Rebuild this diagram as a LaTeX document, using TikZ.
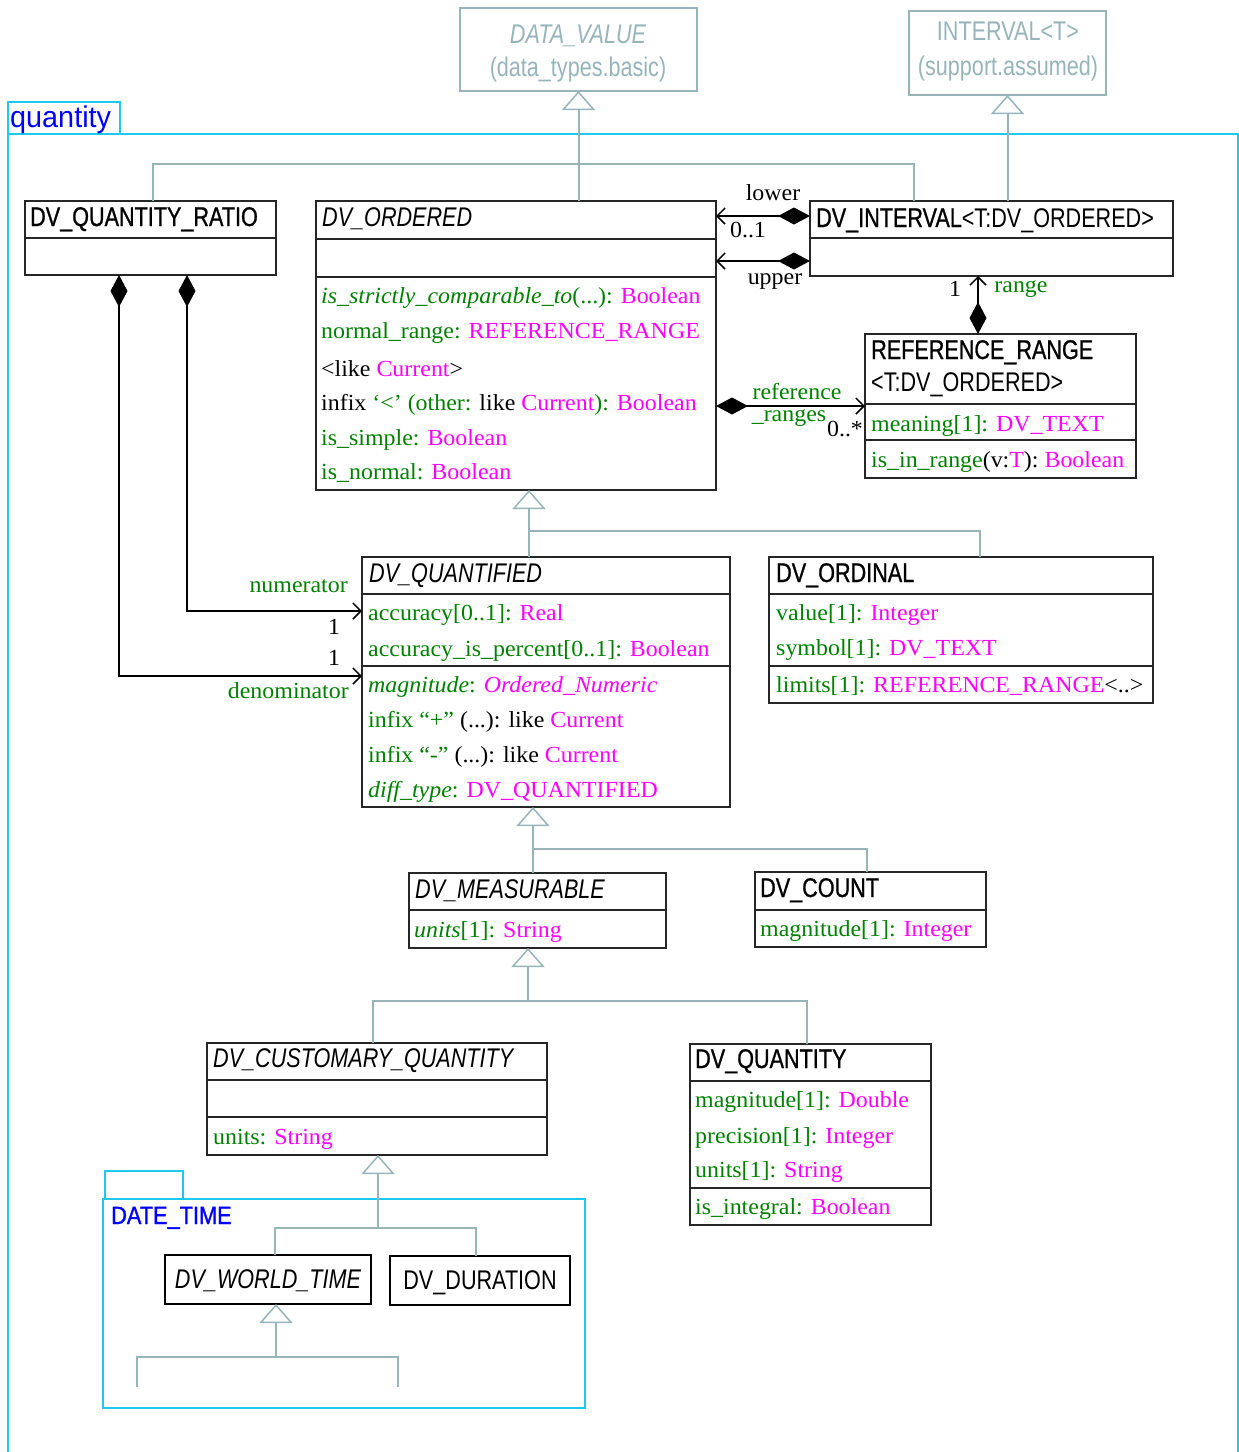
\documentclass[tikz,border=0pt]{standalone}
\usepackage{fontspec}
\setmainfont{Liberation Serif}[FakeStretch=1.04]
\newfontfamily\clsf{Liberation Sans}[FakeStretch=0.8]
\newfontfamily\clsbf{Liberation Sans}[FakeStretch=0.8,FakeBold=0.9]
\newfontfamily\pkgfa{Liberation Sans}[FakeStretch=0.96]
\newfontfamily\pkgfb{Liberation Sans}[FakeStretch=0.87,FakeBold=1.2]
\usetikzlibrary{arrows.meta}
\definecolor{cgreen}{RGB}{0,128,0}
\definecolor{cmag}{RGB}{255,0,255}
\definecolor{cgen}{RGB}{150,180,185}
\definecolor{cpkg}{RGB}{30,200,240}
\definecolor{cblue}{RGB}{0,0,255}
\newcommand\attrsize{\fontsize{23}{28}\selectfont}
\newcommand\clssize{\fontsize{27}{32}\selectfont}
\newcommand\mg[1]{\textcolor{cmag}{#1}}
\newcommand\bk[1]{\textcolor{black}{#1}}
\newcommand\umlbox[6][box]{\node[#1, minimum width={#5-#3}, minimum height={#6-#4}] (#2) at (#3,#4) {};}
\tikzset{
  box/.style={draw=black!85, line width=1.2pt, inner sep=0pt, outer sep=0pt, anchor=north west},
  thickbox/.style={box, draw=black, line width=2.5pt},
  extbox/.style={box, draw=cgen, line width=2pt},
  sepline/.style={draw=black!85, line width=1.2pt},
  title/.style={font=\clsbf\clssize, inner sep=0pt, anchor=base west},
  ititle/.style={font=\clsf\itshape\clssize, inner sep=0pt, anchor=base west},
  exttext/.style={font=\clsf\clssize, text=cgen, inner sep=0pt, anchor=base},
  attr/.style={font=\attrsize, text=cgreen, inner sep=0pt, anchor=base west},
  lbl/.style={font=\attrsize, inner sep=0pt, anchor=base},
  gen/.style={draw=cgen, line width=2pt},
  genarrow/.style={gen, -{Triangle[open, fill=white, length=19pt, width=33pt, line width=1.5pt]}},
  assoc/.style={draw=black, line width=2pt, {Diamond[length=32pt,width=17pt]}-{Straight Barb[length=8pt,width=16pt,line width=1.5pt]}},
  pkg/.style={draw=cpkg, line width=2pt},
}
\begin{document}
\begin{tikzpicture}[x=1pt,y=-1pt]
\useasboundingbox (0,0) rectangle (1239,1452);
% package quantity
\draw[pkg] (8,134) rectangle (120,102);
\draw[pkg] (8,1470) -- (8,134) -- (1238,134) -- (1238,1470);
\node[font=\pkgfa\fontsize{30}{34}\selectfont, text=cblue, inner sep=0pt, anchor=base west] (pkgq) at (10,127) {quantity};
% external boxes
\umlbox[extbox]{dv}{460}{8}{697}{91}
\node[exttext, font=\clsf\itshape\clssize] (dvt1) at (578,43) {DATA\_VALUE};
\node[exttext] (dvt2) at (578,76) {(data\_types.basic)};
\umlbox[extbox]{ivt}{909}{11}{1106}{95}
\node[exttext] (ivt1) at (1008,40) {INTERVAL<T>};
\node[exttext] (ivt2) at (1008,75) {(support.assumed)};
% DV_QUANTITY_RATIO
\umlbox{ratio}{25}{201}{276}{275}
\draw[sepline] (25,238) -- (276,238);
\node[title] (ratiot) at (30,226) {DV\_QUANTITY\_RATIO};
% DV_ORDERED
\umlbox{ordered}{316}{201}{716}{490}
\draw[sepline] (316,239) -- (716,239);
\draw[sepline] (316,277) -- (716,277);
\node[ititle] (orderedt) at (322,226) {DV\_ORDERED};
\node[attr] (o1) at (321,303) {\textit{is\_strictly\_comparable\_to}(...): \mg{Boolean}};
\node[attr] (o2) at (321,338) {normal\_range: \mg{REFERENCE\_RANGE}};
\node[attr, text=black] (o3) at (321,376) {<like \mg{Current}>};
\node[attr] (o4) at (321,410) {\bk{infix} ‘<’ (other: \bk{like} \mg{Current}): \mg{Boolean}};
\node[attr] (o5) at (321,445) {is\_simple: \mg{Boolean}};
\node[attr] (o6) at (321,479) {is\_normal: \mg{Boolean}};
% DV_INTERVAL
\umlbox{interval}{810}{201}{1173}{276}
\draw[sepline] (810,238) -- (1173,238);
\node[title] (intervalt) at (816,227) {DV\_INTERVAL{\clsf<T:DV\_ORDERED>}};
% REFERENCE_RANGE
\umlbox{rr}{865}{334}{1136}{478}
\draw[sepline] (865,404) -- (1136,404);
\draw[sepline] (865,440) -- (1136,440);
\node[title] (rrt1) at (871,359) {REFERENCE\_RANGE};
\node[title, font=\clsf\clssize] (rrt2) at (871,391) {<T:DV\_ORDERED>};
\node[attr] (r1) at (871,431) {meaning[1]: \mg{DV\_TEXT}};
\node[attr] (r2) at (871,467) {is\_in\_range\bk{(v:}\mg{T}\bk{):} \mg{Boolean}};
% DV_QUANTIFIED
\umlbox{qtf}{362}{557}{730}{807}
\draw[sepline] (362,594) -- (730,594);
\draw[sepline] (362,666) -- (730,666);
\node[ititle] (qtft) at (369,582) {DV\_QUANTIFIED};
\node[attr] (q1) at (368,620) {accuracy[0..1]: \mg{Real}};
\node[attr] (q2) at (368,656) {accuracy\_is\_percent[0..1]: \mg{Boolean}};
\node[attr] (q3) at (368,692) {\textit{magnitude}: \mg{\textit{Ordered\_Numeric}}};
\node[attr] (q4) at (368,727) {infix “+” \bk{(...): like} \mg{Current}};
\node[attr] (q5) at (368,762) {infix “-” \bk{(...): like} \mg{Current}};
\node[attr] (q6) at (368,797) {\textit{diff\_type}: \mg{DV\_QUANTIFIED}};
% DV_ORDINAL
\umlbox{ordinal}{769}{557}{1153}{703}
\draw[sepline] (769,594) -- (1153,594);
\draw[sepline] (769,666) -- (1153,666);
\node[title] (ordinalt) at (776,582) {DV\_ORDINAL};
\node[attr] (n1) at (776,620) {value[1]: \mg{Integer}};
\node[attr] (n2) at (776,655) {symbol[1]: \mg{DV\_TEXT}};
\node[attr] (n3) at (776,692) {limits[1]: \mg{REFERENCE\_RANGE}\bk{<..>}};
% DV_MEASURABLE
\umlbox{meas}{409}{873}{666}{948}
\draw[sepline] (409,910) -- (666,910);
\node[ititle] (meast) at (415,898) {DV\_MEASURABLE};
\node[attr] (m1) at (414,937) {\textit{units}[1]: \mg{String}};
% DV_COUNT
\umlbox{count}{755}{872}{986}{947}
\draw[sepline] (755,910) -- (986,910);
\node[title] (countt) at (760,897) {DV\_COUNT};
\node[attr] (c1) at (760,936) {magnitude[1]: \mg{Integer}};
% DV_CUSTOMARY_QUANTITY
\umlbox{cust}{207}{1043}{547}{1155}
\draw[sepline] (207,1080) -- (547,1080);
\draw[sepline] (207,1117) -- (547,1117);
\node[ititle] (custt) at (213,1067) {DV\_CUSTOMARY\_QUANTITY};
\node[attr] (u1) at (213,1144) {units: \mg{String}};
% DV_QUANTITY
\umlbox{quant}{690}{1044}{931}{1225}
\draw[sepline] (690,1081) -- (931,1081);
\draw[sepline] (690,1188) -- (931,1188);
\node[title] (quantt) at (695,1068) {DV\_QUANTITY};
\node[attr] (p1) at (695,1107) {magnitude[1]: \mg{Double}};
\node[attr] (p2) at (695,1143) {precision[1]: \mg{Integer}};
\node[attr] (p3) at (695,1177) {units[1]: \mg{String}};
\node[attr] (p4) at (695,1214) {is\_integral: \mg{Boolean}};
% package DATE_TIME
\draw[pkg] (105,1199) -- (105,1171) -- (183,1171) -- (183,1199);
\draw[pkg] (103,1199) rectangle (585,1408);
\node[font=\pkgfb\fontsize{25}{30}\selectfont, text=cblue, inner sep=0pt, anchor=base west] (pkgd) at (111,1224) {DATE\_TIME};
\umlbox[thickbox]{world}{165}{1255}{371}{1304}
\node[font=\clsf\itshape\clssize, inner sep=0pt, anchor=base] (worldt) at (268,1288) {DV\_WORLD\_TIME};
\umlbox[thickbox]{dur}{390}{1256}{570}{1305}
\node[font=\clsf\clssize, inner sep=0pt, anchor=base] (durt) at (480,1289) {DV\_DURATION};
% generalisations
\draw[genarrow] (ordered.north -| dv.south) -- (dv.south);
\coordinate (hA) at (153,164);
\coordinate (hB) at (914,164);
\draw[gen] (ratio.north -| hA) -- (hA) -- (hB) -- (interval.north -| hB);
\draw[genarrow] (interval.north -| ivt.south) -- (ivt.south);
\coordinate (g2) at (529,531);
\coordinate (o2) at (980,531);
\draw[genarrow] (qtf.north -| g2) -- (ordered.south -| g2);
\draw[gen] (g2) -- (o2) -- (ordinal.north -| o2);
\coordinate (g3) at (533,849);
\coordinate (o3) at (867,849);
\draw[genarrow] (meas.north -| g3) -- (qtf.south -| g3);
\draw[gen] (g3) -- (o3) -- (count.north -| o3);
\coordinate (g4) at (528,1001);
\coordinate (l4) at (373,1001);
\coordinate (r4) at (807,1001);
\draw[genarrow] (g4) -- (meas.south -| g4);
\draw[gen] (cust.north -| l4) -- (l4) -- (r4) -- (quant.north -| r4);
\coordinate (g5) at (378,1228);
\coordinate (l5) at (275,1228);
\coordinate (r5) at (476,1228);
\draw[genarrow] (g5) -- (cust.south -| g5);
\draw[gen] (world.north -| l5) -- (l5) -- (r5) -- (dur.north -| r5);
\coordinate (g6) at (276,1357);
\coordinate (e1) at (137,1387);
\coordinate (e2) at (398,1387);
\draw[genarrow] (g6) -- (world.south -| g6);
\draw[gen] (e1) |- (g6) -| (e2);
% associations
\coordinate (lowy) at (0,216);
\coordinate (upy) at (0,261);
\draw[assoc] (interval.west |- lowy) -- (ordered.east |- lowy);
\draw[assoc] (interval.west |- upy) -- (ordered.east |- upy);
\node[lbl] (lowl) at (773,200) {lower};
\node[lbl] (lowm) at (748,237) {0..1};
\node[lbl] (upl) at (775,284) {upper};
\coordinate (rgx) at (978,0);
\draw[assoc] (rr.north -| rgx) -- (interval.south -| rgx);
\node[lbl] (rgm) at (955,296) {1};
\node[lbl, text=cgreen] (rgl) at (1021,292) {range};
\coordinate (refy) at (0,406);
\draw[assoc] (ordered.east |- refy) -- (rr.west |- refy);
\node[lbl, text=cgreen] (refl1) at (797,399) {reference};
\node[lbl, text=cgreen] (refl2) at (789,421) {\_ranges};
\node[lbl] (refm) at (845,436) {0..*};
\coordinate (numx) at (187,611);
\coordinate (denx) at (119,676);
\draw[assoc] (ratio.south -| numx) |- (qtf.west |- numx);
\draw[assoc] (ratio.south -| denx) |- (qtf.west |- denx);
\node[lbl, text=cgreen, anchor=base east] (numl) at (348,592) {numerator};
\node[lbl] (numm) at (334,634) {1};
\node[lbl] (denm) at (334,665) {1};
\node[lbl, text=cgreen, anchor=base east] (denl) at (349,698) {denominator};
\end{tikzpicture}
\end{document}
